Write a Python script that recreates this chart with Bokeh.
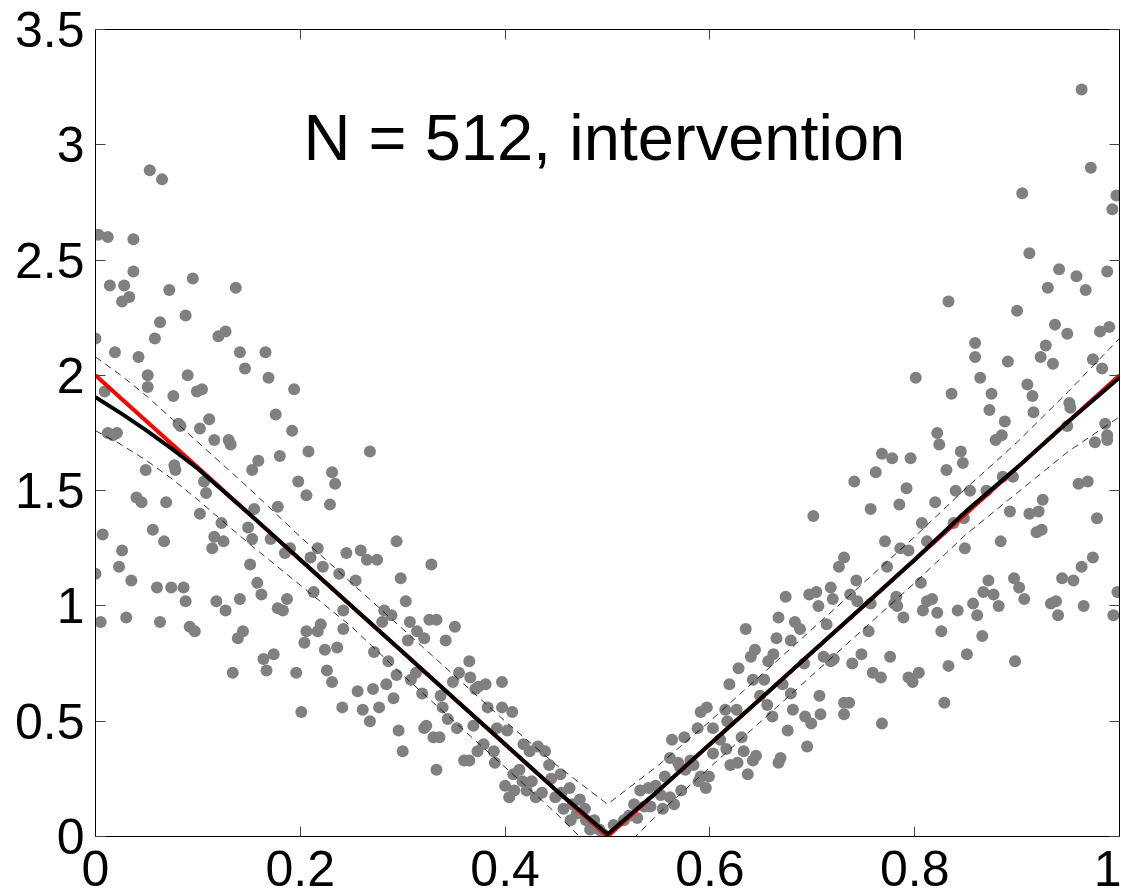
from bokeh.plotting import figure
from bokeh.models import Range1d, FixedTicker, LinearAxis, Label
from bokeh.embed import file_html
from bokeh.resources import INLINE

# ---------------- data ----------------
title_text = "N = 512, intervention"

x_ticks = [0, 0.2, 0.4, 0.6, 0.8, 1]
x_tick_labels = ["0", "0.2", "0.4", "0.6", "0.8", "1"]
y_ticks = [0, 0.5, 1, 1.5, 2, 2.5, 3, 3.5]
y_tick_labels = ["0", "0.5", "1", "1.5", "2", "2.5", "3", "3.5"]

# observations (grey dots)
obs_x = [
    0.053, 0.065, 0.003, 0.012, 0.037, 0.037, 0.095, 0.014, 0.028, 0.137, 0.072, 0.033, 0.026, 0.088,
    0.063, 0.127, 0.120, 0.000, 0.058, 0.019, 0.141, 0.166, 0.042, 0.146, 0.051, 0.090, 0.169, 0.051,
    0.104, 0.099, 0.194, 0.009, 0.076, 0.176, 0.081, 0.083, 0.111, 0.102, 0.192, 0.012, 0.021, 0.017,
    0.116, 0.130, 0.132, 0.208, 0.180, 0.159,
    0.153, 0.049, 0.077, 0.078, 0.231, 0.198, 0.234, 0.106, 0.108, 0.040, 0.045, 0.069, 0.206, 0.229,
    0.178, 0.155, 0.102, 0.123, 0.149, 0.007, 0.056, 0.116, 0.125, 0.067, 0.153, 0.171, 0.026, 0.114,
    0.190, 0.185, 0.217, 0.245, 0.210, 0.222, 0.151, 0.023, 0.000, 0.238, 0.035, 0.158, 0.060, 0.074,
    0.086, 0.213, 0.162, 0.088, 0.118, 0.141, 0.187, 0.127, 0.178, 0.183, 0.242, 0.005, 0.030, 0.063,
    0.092, 0.097, 0.144, 0.139, 0.220, 0.217, 0.206, 0.242, 0.204, 0.224, 0.236, 0.174, 0.164, 0.167,
    0.134, 0.196, 0.226, 0.231, 0.241, 0.201,
    0.268, 0.294, 0.259, 0.265, 0.275, 0.328, 0.254, 0.298, 0.303, 0.282, 0.289, 0.280, 0.307, 0.326,
    0.333, 0.351, 0.314, 0.321, 0.305, 0.342, 0.272, 0.286, 0.365, 0.355, 0.366, 0.294, 0.313, 0.308,
    0.349, 0.397, 0.381, 0.374, 0.371, 0.256, 0.271, 0.284, 0.319, 0.337, 0.291, 0.261, 0.277, 0.268,
    0.339, 0.344, 0.353, 0.323, 0.321, 0.330, 0.336, 0.296, 0.369, 0.383, 0.397, 0.407, 0.392, 0.402,
    0.300, 0.333, 0.373, 0.379, 0.389, 0.360, 0.365, 0.390, 0.418, 0.432, 0.439, 0.424, 0.443, 0.454,
    0.463, 0.414, 0.408, 0.400, 0.409, 0.404, 0.426, 0.430, 0.436, 0.449, 0.457, 0.473, 0.478, 0.464,
    0.479, 0.421, 0.417, 0.470, 0.485, 0.492, 0.466, 0.445, 0.455,
    0.701, 0.731, 0.726, 0.718, 0.697, 0.704, 0.674, 0.720, 0.706, 0.667, 0.683, 0.688, 0.714, 0.635,
    0.665, 0.679, 0.644, 0.640, 0.662, 0.657, 0.711, 0.721, 0.692, 0.718, 0.628, 0.642, 0.653, 0.619,
    0.671, 0.679, 0.707, 0.649, 0.656, 0.661, 0.681, 0.693, 0.699, 0.708, 0.731, 0.731, 0.676, 0.695,
    0.597, 0.591, 0.615, 0.626, 0.617, 0.588, 0.603, 0.575, 0.563, 0.610, 0.631, 0.616, 0.633, 0.603,
    0.561, 0.569, 0.645, 0.642, 0.669, 0.667, 0.620, 0.627, 0.637, 0.581, 0.584, 0.576, 0.571, 0.599,
    0.589, 0.596, 0.591, 0.556, 0.547, 0.552, 0.561, 0.565, 0.572, 0.554, 0.532, 0.540, 0.526, 0.536,
    0.542, 0.529, 0.521, 0.516, 0.506, 0.496, 0.487, 0.483,
    0.824, 0.845, 0.768, 0.778, 0.796, 0.847, 0.831, 0.762, 0.741, 0.792, 0.840, 0.854, 0.870, 0.960,
    0.969, 0.976, 0.988, 0.879, 0.785, 0.820, 0.757, 0.886, 0.896, 0.925, 0.893, 0.912, 0.921, 0.978,
    0.919, 0.924, 0.807, 0.848, 0.838, 0.771, 0.812, 0.786, 0.794, 0.849, 0.884, 0.773, 0.974, 0.963,
    0.743, 0.806, 0.872, 0.897, 0.944, 0.955, 0.902, 0.737, 0.782, 0.867, 0.877, 0.907, 0.998, 0.744,
    0.757, 0.780, 0.812, 0.817, 0.857, 0.882, 0.933, 0.938, 0.965, 0.783, 0.808, 0.822, 0.842, 0.861,
    0.940, 0.994, 0.789, 0.755, 0.826, 0.866, 0.748, 0.739, 0.776, 0.851, 0.898, 0.833, 0.759, 0.767,
    0.794, 0.798, 0.804, 0.736, 0.829, 0.768,
    0.963, 0.972, 0.905, 0.997, 0.993, 0.912, 0.941, 0.958, 0.988, 0.930, 0.967, 0.833, 0.900, 0.937,
    0.949, 0.981, 0.990, 0.859, 0.928, 0.859, 0.923, 0.935, 0.891, 0.974, 0.983, 0.801, 0.864, 0.836,
    0.875, 0.910, 0.915, 0.873, 0.916, 0.951, 0.952, 0.888, 0.949, 0.986, 0.988, 0.822, 0.885,
]
obs_y = [
    2.89, 2.85, 2.61, 2.60, 2.59, 2.45, 2.42, 2.39, 2.39, 2.38, 2.37, 2.34, 2.32, 2.26,
    2.23, 2.19, 2.17, 2.16, 2.16, 2.10, 2.10, 2.10, 2.08, 2.03, 2.00, 2.00, 1.99, 1.95,
    1.94, 1.93, 1.94, 1.93, 1.91, 1.83, 1.79, 1.78, 1.81, 1.77, 1.76, 1.75, 1.75, 1.74,
    1.72, 1.72, 1.70, 1.67, 1.65, 1.63,
    1.59, 1.59, 1.61, 1.59, 1.58, 1.54, 1.53, 1.54, 1.49, 1.47, 1.45, 1.45, 1.48, 1.44,
    1.43, 1.42, 1.40, 1.36, 1.34, 1.31, 1.33, 1.30, 1.28, 1.28, 1.29, 1.29, 1.24, 1.25,
    1.25, 1.23, 1.25, 1.23, 1.21, 1.17, 1.18, 1.17, 1.14, 1.14, 1.11, 1.10, 1.08, 1.08,
    1.08, 1.06, 1.05, 1.02, 1.02, 1.03, 1.03, 0.98, 0.99, 0.98, 0.98, 0.93, 0.95, 0.93,
    0.91, 0.89, 0.89, 0.86, 0.92, 0.89, 0.89, 0.90, 0.84, 0.81, 0.82, 0.79, 0.77, 0.72,
    0.71, 0.71, 0.72, 0.67, 0.56, 0.54,
    1.67, 1.28, 1.24, 1.20, 1.20, 1.18, 1.11, 1.12, 1.02, 0.98, 0.96, 0.93, 0.93, 0.94,
    0.94, 0.91, 0.89, 0.86, 0.85, 0.85, 0.80, 0.76, 0.76, 0.71, 0.69, 0.70, 0.71, 0.68,
    0.67, 0.67, 0.66, 0.65, 0.64, 0.63, 0.64, 0.66, 0.62, 0.61, 0.60, 0.55, 0.56, 0.50,
    0.56, 0.51, 0.47, 0.48, 0.47, 0.43, 0.43, 0.46, 0.48, 0.56, 0.56, 0.54, 0.47, 0.46,
    0.37, 0.29, 0.37, 0.40, 0.37, 0.33, 0.33, 0.32, 0.40, 0.39, 0.37, 0.37, 0.31, 0.27,
    0.21, 0.29, 0.27, 0.22, 0.20, 0.17, 0.24, 0.17, 0.19, 0.17, 0.12, 0.16, 0.12, 0.07,
    0.07, 0.20, 0.24, 0.10, 0.05, 0.03, 0.14, 0.25, 0.19,
    1.39, 1.21, 1.17, 1.08, 1.05, 1.06, 1.04, 1.03, 1.00, 0.95, 0.93, 0.90, 0.92, 0.90,
    0.86, 0.85, 0.81, 0.78, 0.79, 0.76, 0.78, 0.77, 0.75, 0.76, 0.73, 0.68, 0.68, 0.66,
    0.66, 0.62, 0.61, 0.61, 0.57, 0.52, 0.55, 0.52, 0.49, 0.53, 0.58, 0.53, 0.46, 0.39,
    0.56, 0.54, 0.55, 0.55, 0.50, 0.47, 0.47, 0.43, 0.42, 0.42, 0.43, 0.38, 0.37, 0.36,
    0.34, 0.32, 0.35, 0.33, 0.34, 0.32, 0.31, 0.32, 0.27, 0.33, 0.31, 0.29, 0.30, 0.26,
    0.24, 0.21, 0.26, 0.26, 0.22, 0.18, 0.17, 0.14, 0.20, 0.12, 0.20, 0.21, 0.14, 0.13,
    0.13, 0.08, 0.09, 0.07, 0.05, 0.01, 0.07, 0.03,
    1.70, 1.67, 1.66, 1.64, 1.64, 1.62, 1.59, 1.58, 1.54, 1.51, 1.50, 1.50, 1.50, 1.53,
    1.54, 1.71, 1.72, 1.72, 1.44, 1.45, 1.42, 1.56, 1.56, 1.46, 1.41, 1.40, 1.41, 1.38,
    1.32, 1.33, 1.36, 1.38, 1.36, 1.28, 1.28, 1.25, 1.24, 1.25, 1.28, 1.17, 1.21, 1.17,
    1.11, 1.10, 1.11, 1.12, 1.12, 1.11, 1.08, 1.05, 1.04, 1.06, 1.05, 1.03, 1.06, 1.02,
    1.01, 1.01, 1.02, 1.03, 1.01, 1.00, 1.01, 1.02, 1.00, 1.00, 0.98, 0.97, 0.98, 0.96,
    0.96, 0.96, 0.95, 0.89, 0.89, 0.87, 0.79, 0.75, 0.78, 0.79, 0.76, 0.74, 0.71, 0.69,
    0.69, 0.67, 0.71, 0.58, 0.58, 0.49,
    3.24, 2.90, 2.79, 2.78, 2.72, 2.53, 2.46, 2.43, 2.45, 2.38, 2.37, 2.32, 2.28, 2.22,
    2.18, 2.19, 2.21, 2.14, 2.13, 2.08, 2.08, 2.05, 2.06, 2.07, 2.03, 1.99, 1.99, 1.92,
    1.92, 1.96, 1.91, 1.85, 1.84, 1.88, 1.86, 1.80, 1.78, 1.79, 1.74, 1.75, 1.74,
]

# true function (red) and estimate with confidence band (black)
curve_x = [0, 0.025, 0.05, 0.075, 0.10, 0.15, 0.20, 0.25, 0.30, 0.35, 0.40, 0.45, 0.50,
           0.55, 0.60, 0.65, 0.70, 0.75, 0.80, 0.85, 0.90, 0.95, 1.00]
true_y = [2.00, 1.90, 1.80, 1.70, 1.60, 1.40, 1.20, 1.00, 0.80, 0.60, 0.40, 0.20, 0.00,
          0.20, 0.40, 0.60, 0.80, 1.00, 1.20, 1.40, 1.60, 1.80, 2.00]
est_y = [1.905, 1.835, 1.76, 1.68, 1.595, 1.40, 1.20, 1.00, 0.80, 0.60, 0.40, 0.20, 0.01,
         0.20, 0.40, 0.60, 0.80, 1.00, 1.20, 1.41, 1.60, 1.80, 1.99]
upper_y = [2.08, 2.00, 1.91, 1.81, 1.71, 1.51, 1.30, 1.10, 0.90, 0.70, 0.50, 0.31, 0.14,
           0.31, 0.50, 0.70, 0.90, 1.10, 1.30, 1.51, 1.71, 1.93, 2.16]
lower_y = [1.76, 1.70, 1.63, 1.55, 1.46, 1.27, 1.09, 0.91, 0.70, 0.50, 0.30, 0.10, -0.12,
           0.10, 0.30, 0.50, 0.70, 0.90, 1.10, 1.31, 1.49, 1.67, 1.82]

# ---------------- figure ----------------
FONT = "Liberation Sans"

p = figure(frame_width=1024, frame_height=807,
           min_border_left=95, min_border_top=29, min_border_right=2, min_border_bottom=59,
           x_range=Range1d(0, 1), y_range=Range1d(0, 3.5),
           output_backend="svg", toolbar_location=None, tools="")
p.grid.visible = False
p.background_fill_color = "white"
p.border_fill_color = "white"
p.outline_line_color = "black"
p.outline_line_width = 1

for ax, ticks, labels in ((p.xaxis[0], x_ticks, x_tick_labels), (p.yaxis[0], y_ticks, y_tick_labels)):
    ax.ticker = FixedTicker(ticks=ticks)
    ax.major_label_overrides = {t: l for t, l in zip(ticks, labels)}
    ax.minor_tick_line_color = None
    ax.major_tick_in = 10
    ax.major_tick_out = 0
    ax.major_tick_line_color = "#444444"
    ax.axis_line_color = "black"
    ax.major_label_text_font = FONT
    ax.major_label_text_font_size = "50px"
    ax.major_label_text_color = "black"
p.xaxis[0].major_label_standoff = 14
p.yaxis[0].major_label_standoff = 11

# mirror ticks on top and right (labels not drawn)
top_ax = LinearAxis(ticker=FixedTicker(ticks=x_ticks))
right_ax = LinearAxis(ticker=FixedTicker(ticks=y_ticks))
for ax in (top_ax, right_ax):
    ax.major_label_text_color = None
    ax.major_label_text_font_size = "2px"
    ax.major_label_standoff = 0
    ax.minor_tick_line_color = None
    ax.major_tick_in = 10
    ax.major_tick_out = 0
    ax.major_tick_line_color = "#444444"
    ax.axis_line_color = "black"
p.add_layout(top_ax, "above")
p.add_layout(right_ax, "right")

p.scatter(obs_x, obs_y, size=12, fill_color="#808080", line_color=None)
p.line(curve_x, true_y, line_color="red", line_width=4)
p.line(curve_x, est_y, line_color="black", line_width=4)
p.line(curve_x, upper_y, line_color="black", line_width=0.8, line_dash="7 5")
p.line(curve_x, lower_y, line_color="black", line_width=0.8, line_dash="7 5")

p.add_layout(Label(x=0.497, y=3.03, text=title_text, text_align="center",
                   text_baseline="alphabetic", text_font=FONT, text_font_size="65px",
                   text_color="black"))

open("out.html", "w").write(file_html(p, INLINE))
